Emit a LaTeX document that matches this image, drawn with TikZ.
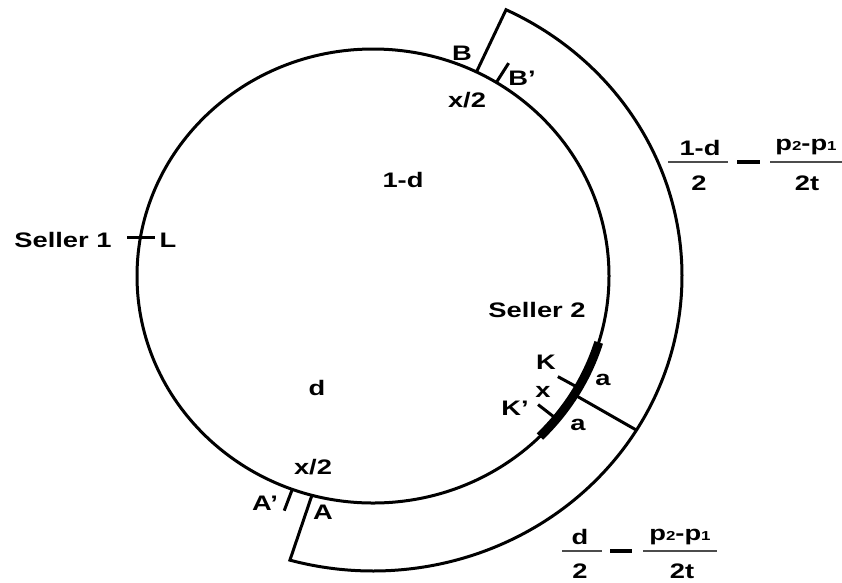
\documentclass[tikz,border=0pt]{standalone}
\usepackage{fontspec}
\setmainfont{Liberation Sans}[FakeStretch=1.3]
\usetikzlibrary{calc}
\newcommand\sdig[1]{{\fontsize{13}{13}\selectfont #1}}
\tikzset{
  lbl/.style={font=\fontsize{21}{24}\selectfont\bfseries, inner sep=0pt},
  ln/.style={line width=3pt},
  fbar/.style={line width=2.5pt, gray!60!black},
  mbar/.style={line width=3.5pt, black}
}
\begin{document}
\begin{tikzpicture}[x=1pt,y=-1pt]
\useasboundingbox (0,0) rectangle (842,582);
\coordinate (C) at (373,276);
% main circle
\draw[ln] (C) ellipse [x radius=236, y radius=227];
% points on circle
\coordinate (B)  at ({373+236*cos(-64)},{276+227*sin(-64)});
\coordinate (Bo) at ({373+309*cos(-64.5)},{276+295*sin(-64.5)});
\coordinate (Bp) at ({373+236*cos(-58.5)},{276+227*sin(-58.5)});
\coordinate (A)  at ({373+236*cos(105)},{276+227*sin(105)});
\coordinate (Ap) at ({373+236*cos(110)},{276+227*sin(110)});
\coordinate (M)  at ({373+236*cos(31.5)},{276+227*sin(31.5)});
\coordinate (Mo) at ({373+309*cos(31.5)},{276+295*sin(31.5)});
\coordinate (K)  at ({373+236*cos(29.5)},{276+227*sin(29.5)});
\coordinate (Kp) at ({373+236*cos(39)},{276+227*sin(39)});
\coordinate (L1) at (127,237);
\coordinate (L2) at (155,237);
% outer band
\draw[ln, line join=miter] (B) -- plot[domain=-64.5:105.6, samples=120, smooth] ({373+309*cos(\x)},{276+295*sin(\x)}) -- (A);
\draw[ln] (M) -- (Mo);
% thick arc (seller 2 segment)
\draw[line width=9pt] plot[domain=17:45, samples=30, smooth] ({373+236*cos(\x)},{276+227*sin(\x)});
% ticks
\draw[ln] (Bp) -- ($(C)!1.1!(Bp)$);
\draw[ln] (Ap) -- ($(C)!1.1!(Ap)$);
\draw[ln] ($(C)!0.9!(K)$) -- (K);
\draw[ln] ($(C)!0.9!(Kp)$) -- (Kp);
\draw[ln] (L1) -- (L2);
% labels
\node[lbl] (s1) at (63,240) {Seller 1};
\node[lbl] (lL) at (168,240) {L};
\node[lbl] (lB) at (462,53) {B};
\node[lbl] (lBp) at (522,78) {B'};
\node[lbl] (x2a) at (467,100) {x/2};
\node[lbl] (omd) at (403,180) {1-d};
\node[lbl] (s2) at (537,310) {Seller 2};
\node[lbl] (lK) at (546,362) {K};
\node[lbl] (lx) at (543,392) {x};
\node[lbl] (lKp) at (515,408) {K'};
\node[lbl] (a1) at (603,380) {a};
\node[lbl] (a2) at (578,425) {a};
\node[lbl] (ld) at (317,388) {d};
\node[lbl] (x2b) at (313,467) {x/2};
\node[lbl] (lAp) at (265,503) {A'};
\node[lbl] (lA) at (323,512) {A};
% top-right formula
\node[lbl] (f1n) at (700,148) {1-d};
\node[lbl] (f1d) at (699,183) {2};
\draw[fbar] (668,162) -- (728,162);
\draw[mbar] (737,162) -- (760,162);
\node[lbl] (f2n) at (806,147) {p\sdig{2}-p\sdig{1}};
\node[lbl] (f2d) at (807,183) {2t};
\draw[fbar] (770,162) -- (842,162);
% bottom formula
\node[lbl] (g1n) at (580,537) {d};
\node[lbl] (g1d) at (580,571) {2};
\draw[fbar] (562,551) -- (602,551);
\draw[mbar] (610,551) -- (632,551);
\node[lbl] (g2n) at (680,537) {p\sdig{2}-p\sdig{1}};
\node[lbl] (g2d) at (682,571) {2t};
\draw[fbar] (643,551) -- (717,551);
\end{tikzpicture}
\end{document}
